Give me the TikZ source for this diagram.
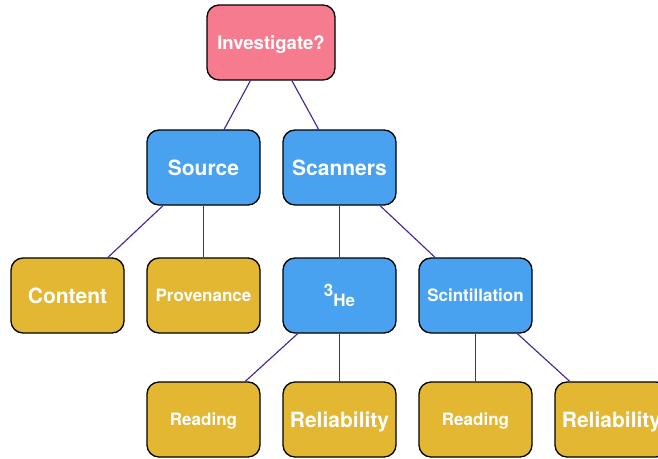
\documentclass[tikz,border=0pt]{standalone}
\usepackage{fontspec}
\setmainfont{TeX Gyre Heros}
\definecolor{rosebox}{RGB}{247,123,143}
\definecolor{bluebox}{RGB}{72,162,240}
\definecolor{goldbox}{RGB}{227,183,50}
\definecolor{linkcol}{RGB}{72,38,140}
\tikzset{
  box/.style={draw=black, line width=1pt, rounded corners=9pt,
    minimum width=84.75pt, minimum height=56.25pt, inner sep=0pt,
    text=white, align=center, text depth=0pt},
  bigtxt/.style={font=\bfseries\fontsize{15.75}{18}\selectfont, text height=11.3pt},
  smalltxt/.style={font=\bfseries\fontsize{12.75}{15}\selectfont, text height=9.2pt},
  rootbox/.style={box, fill=rosebox, minimum width=96pt,
    font=\bfseries\fontsize{13.9}{16}\selectfont, text height=10pt},
  bluenode/.style={box, fill=bluebox},
  goldnode/.style={box, fill=goldbox},
  link/.style={draw=linkcol, line width=0.85pt}
}
\begin{document}
\begin{tikzpicture}[x=0.75pt, y=-0.75pt]
  \useasboundingbox (0,0) rectangle (658,458);
  \clip (0,0) rectangle (658,458);

  % tree nodes
  \node[rootbox] (root) at (271,42.5) {Investigate?};

  \node[bluenode, bigtxt] (source) at (203.5,167.5) {Source};
  \node[bluenode, bigtxt] (scan) at (339.5,167.5) {Scanners};

  \node[goldnode, bigtxt] (content) at (67.5,295.5) {Content};
  \node[goldnode, smalltxt] (prov) at (203.5,295.5) {Provenance};
  \node[bluenode, smalltxt, text height=16.7pt] (he) at (339.5,295.5)
    {\raisebox{7.5pt}{3}He};
  \node[bluenode, smalltxt] (scint) at (475.5,295.5) {Scintillation};

  \node[goldnode, smalltxt] (read1) at (203.5,419.5) {Reading};
  \node[goldnode, bigtxt] (rel1) at (339.5,419.5) {Reliability};
  \node[goldnode, smalltxt] (read2) at (475.5,419.5) {Reading};
  \node[goldnode, bigtxt] (rel2) at (611.5,419.5) {Reliability};

  % connectors
  \draw[link] (root) -- (source);
  \draw[link] (root) -- (scan);
  \draw[link] (source) -- (content);
  \draw[link] (source) -- (prov);
  \draw[link] (scan) -- (he);
  \draw[link] (scan) -- (scint);
  \draw[link] (he) -- (read1);
  \draw[link] (he) -- (rel1);
  \draw[link] (scint) -- (read2);
  \draw[link] (scint) -- (rel2);
\end{tikzpicture}
\end{document}
